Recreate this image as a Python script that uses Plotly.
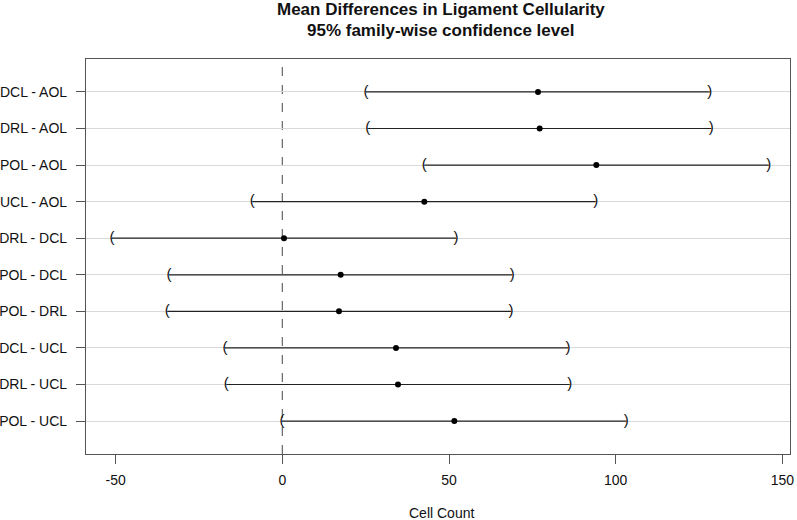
import plotly.graph_objects as go

comparisons = ["DCL - AOL", "DRL - AOL", "POL - AOL", "UCL - AOL", "DRL - DCL",
               "POL - DCL", "POL - DRL", "DCL - UCL", "DRL - UCL", "POL - UCL"]
diff = [76.7, 77.2, 94.2, 42.6, 0.5, 17.5, 17.0, 34.1, 34.7, 51.6]
lwr = [25.1, 25.6, 42.6, -9.0, -51.1, -34.0, -34.5, -17.2, -16.8, -0.1]
upr = [128.2, 128.7, 145.9, 94.0, 52.1, 69.0, 68.6, 85.7, 86.2, 103.2]
x_ticks = [-50, 0, 50, 100, 150]
title_lines = ["Mean Differences in Ligament Cellularity", "95% family-wise confidence level"]
x_title = "Cell Count"

n = len(comparisons)
ypos = [n - i for i in range(n)]

FONT = "Liberation Sans, Arial, sans-serif"
W, H = 797, 520
ML, MR, MT, MB = 86, 7, 59, 66
plot_w = W - ML - MR
plot_h = H - MT - MB


def px_to_paper_x(px):
    return (px - ML) / plot_w


def px_to_paper_y(py):
    return (H - MB - py) / plot_h


fig = go.Figure()

# interval lines
lx, ly = [], []
for lo, hi, y in zip(lwr, upr, ypos):
    lx += [lo, hi, None]
    ly += [y, y, None]
fig.add_trace(go.Scatter(x=lx, y=ly, mode="lines",
                         line=dict(color="#222222", width=1.2),
                         hoverinfo="skip", showlegend=False))

# end brackets
fig.add_trace(go.Scatter(x=lwr, y=ypos, mode="text", text=["("] * n,
                         textposition="middle center",
                         textfont=dict(family=FONT, size=15, color="#111111"),
                         showlegend=False, hoverinfo="skip"))
fig.add_trace(go.Scatter(x=upr, y=ypos, mode="text", text=[")"] * n,
                         textposition="middle center",
                         textfont=dict(family=FONT, size=15, color="#111111"),
                         showlegend=False, hoverinfo="skip"))

# point estimates
fig.add_trace(go.Scatter(x=diff, y=ypos, mode="markers",
                         marker=dict(color="black", size=6),
                         showlegend=False, customdata=comparisons,
                         hovertemplate="%{customdata}: %{x}<extra></extra>"))

# zero reference line
fig.add_shape(type="line", x0=0, x1=0, y0=0, y1=1, xref="x", yref="paper",
              line=dict(color="#666666", width=1.2, dash="dash"), layer="below")

annotations = [
    dict(text="<b>" + title_lines[0] + "</b>", x=px_to_paper_x(440.5), y=px_to_paper_y(9),
         xref="paper", yref="paper", xanchor="center", yanchor="middle", showarrow=False,
         font=dict(family=FONT, size=17, color="#111111")),
    dict(text="<b>" + title_lines[1] + "</b>", x=px_to_paper_x(440.5), y=px_to_paper_y(30),
         xref="paper", yref="paper", xanchor="center", yanchor="middle", showarrow=False,
         font=dict(family=FONT, size=17, color="#111111")),
    dict(text=x_title, x=px_to_paper_x(441), y=px_to_paper_y(513),
         xref="paper", yref="paper", xanchor="center", yanchor="middle", showarrow=False,
         font=dict(family=FONT, size=14, color="#111111")),
]

fig.update_layout(
    width=W, height=H,
    margin=dict(l=ML, r=MR, t=MT, b=MB, autoexpand=False),
    paper_bgcolor="white", plot_bgcolor="white",
    font=dict(family=FONT, size=14, color="#111111"),
    xaxis=dict(range=[-58.9, 152.3], tickvals=x_ticks, ticktext=[str(v) for v in x_ticks],
               showgrid=False, zeroline=False, showline=True, mirror=True,
               linecolor="#555555", linewidth=1.2, automargin=False,
               ticks="outside", ticklen=9, tickcolor="#555555", tickwidth=1.2,
               ticklabelstandoff=4),
    yaxis=dict(range=[0.1, 10.9], tickvals=ypos, ticktext=comparisons,
               showgrid=True, gridcolor="#d9d9d9", gridwidth=1.2, zeroline=False,
               showline=True, mirror=True, linecolor="#555555", linewidth=1.2,
               automargin=False,
               ticks="outside", ticklen=9, tickcolor="#555555", tickwidth=1.2,
               ticklabelstandoff=6),
    annotations=annotations,
)

# remove the browser's default 8px body margin so the figure sits at the page origin
fig.write_html("out.html", config={"displayModeBar": False},
               post_script="document.body.style.margin='0';")
